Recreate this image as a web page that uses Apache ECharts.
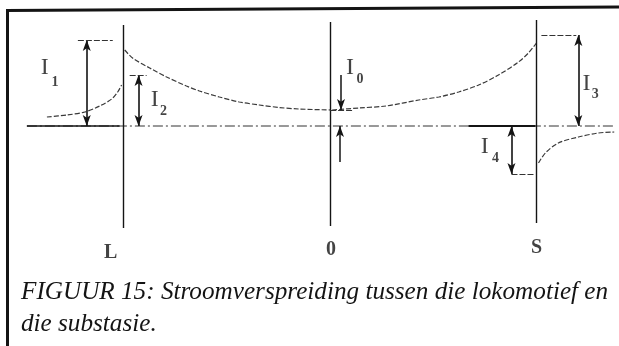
<!DOCTYPE html>
<html>
<head>
<meta charset="utf-8">
<script src="https://cdn.jsdelivr.net/npm/echarts@6/dist/echarts.min.js"></script>
<style>
  html, body { margin: 0; padding: 0; background: #fff; }
  #chart { width: 619px; height: 346px; }
</style>
</head>
<body>
<div id="chart"></div>
<script>
// Track positions: L = locomotive, 0 = midpoint, S = substation
const stationNames = ['L', '0', 'S'];
const stationPos = [0, 1, 2];
const stationTop = [10.1, 10.4, 10.6];
const stationBottom = [-10.2, -10.0, -9.7];

// Rail current, relative units, zero = reference level  [position, current]
const curveBehindL = [[-0.372, 0.9], [-0.275, 1.1], [-0.188, 1.4], [-0.116, 2.0], [-0.058, 2.7], [-0.029, 3.4], [-0.010, 4.1]];
const curveLto0 = [[0.005, 7.6], [0.043, 6.8], [0.126, 5.8], [0.208, 4.9], [0.304, 4.0], [0.367, 3.5], [0.464, 2.9],
                   [0.560, 2.4], [0.657, 2.1], [0.754, 1.85], [0.850, 1.7], [1.0, 1.6]];
const curve0toS = [[1.010, 1.6], [1.140, 1.8], [1.271, 2.0], [1.430, 2.6], [1.527, 2.9], [1.623, 3.4], [1.720, 4.1],
                   [1.816, 5.1], [1.913, 6.4], [1.961, 7.3], [2.0, 8.3]];
const curveBeyondS = [[2.010, -3.7], [2.043, -2.7], [2.106, -1.7], [2.203, -1.1], [2.300, -0.7], [2.377, -0.6]];

// Reference level extent
const referenceFrom = -0.469;
const referenceTo = 2.372;

// Dimension arrows: name, position, from, to
const dimNames = ['I1', 'I2', 'I3', 'I4'];
const dimPos = [-0.179, 0.072, 2.203, 1.879];
const dimFrom = [0, 0, 0, 0];
const dimTo = [8.6, 5.1, 9.1, -4.8];

// Short extension lines marking the arrow ends: [from, to, level]
const extFrom = [-0.222, 0.029, 2.024, 1.879, 1.0];
const extTo = [-0.053, 0.111, 2.193, 1.995, 1.116];
const extLevel = [8.6, 5.1, 9.1, -4.8, 1.6];

// I0 pointer arrows (one from above, one from below)
const i0Pos = [1.053, 1.048];
const i0From = [5.1, -3.6];
const i0To = [1.6, 0];

// Current labels: letter anchor and subscript anchor
const labelSubs = ['1', '2', '0', '3', '4'];
const labelI = [[-0.382, 5.8], [0.150, 2.6], [1.097, 5.8], [2.242, 4.2], [1.749, -2.1]];
const labelSub = [[-0.333, 4.4], [0.193, 1.5], [1.145, 4.7], [2.285, 3.2], [1.802, -3.2]];

const caption = 'FIGUUR 15: Stroomverspreiding tussen die lokomotief en\ndie substasie.';

const ink = '#141414';
const serif = 'Liberation Serif';

const chart = echarts.init(document.getElementById('chart'), null, { renderer: 'canvas' });

function curveSeries(data) {
  return {
    type: 'line', data: data, smooth: 0.3, showSymbol: false, silent: true,
    lineStyle: { color: '#3a3a3a', width: 1.2, type: [5, 2] }
  };
}

const stationLines = stationPos.map((p, i) => [
  { coord: [p, stationBottom[i]] }, { coord: [p, stationTop[i]] }
]);
const dimLines = dimPos.map((p, i) => [
  { coord: [p, dimFrom[i]] }, { coord: [p, dimTo[i]] }
]);
const extLines = extFrom.map((f, i) => [
  { coord: [f, extLevel[i]] }, { coord: [extTo[i], extLevel[i]] }
]);
const i0Lines = i0Pos.map((p, i) => [
  { coord: [p, i0From[i]] }, { coord: [p, i0To[i]] }
]);

const stationLabelOffset = [-0.063, 0.005, 0.0];
const stationLabelLevel = [-12.7, -12.4, -12.2];

function textSeries(points, texts, font) {
  return {
    type: 'scatter', silent: true, symbolSize: 1,
    itemStyle: { color: 'transparent' },
    data: points.map((pt, i) => ({ value: pt, name: texts[i] })),
    label: {
      show: true, position: 'inside', formatter: p => p.name,
      color: ink, fontFamily: serif, fontSize: font.size, fontWeight: font.weight
    }
  };
}

const option = {
  animation: false,
  backgroundColor: '#fff',
  title: {
    text: caption, left: 16, top: 271,
    textStyle: {
      fontFamily: serif, fontStyle: 'italic', fontWeight: 'normal',
      fontSize: 25.2, lineHeight: 32, color: ink
    }
  },
  graphic: [
    { type: 'line', shape: { x1: 7.5, y1: 9, x2: 7.5, y2: 346 }, style: { stroke: ink, lineWidth: 3 } },
    { type: 'line', shape: { x1: 6, y1: 10.5, x2: 619, y2: 7 }, style: { stroke: ink, lineWidth: 3 } }
  ],
  grid: { left: 20.5, top: 6, width: 600.3, height: 340 },
  xAxis: { type: 'value', min: -0.5, max: 2.4, show: false },
  yAxis: { type: 'value', min: -22, max: 12, show: false },
  series: [
    // reference level
    {
      type: 'line', silent: true, showSymbol: false,
      data: [[referenceFrom, 0], [referenceTo, 0]],
      lineStyle: { color: '#333', width: 1, type: [10, 3, 2, 3] }
    },
    {
      type: 'line', silent: true, showSymbol: false,
      data: [[referenceFrom, 0], [-0.02, 0]],
      lineStyle: { color: ink, width: 1.4 }
    },
    {
      type: 'line', silent: true, showSymbol: false,
      data: [[1.671, 0], [1.995, 0]],
      lineStyle: { color: ink, width: 2 }
    },
    curveSeries(curveBehindL),
    curveSeries(curveLto0),
    curveSeries(curve0toS),
    curveSeries(curveBeyondS),
    // station verticals, dimension arrows and extension lines
    {
      type: 'line', data: [], silent: true,
      markLine: {
        silent: true, symbol: ['none', 'none'], label: { show: false },
        lineStyle: { color: ink, width: 1.4, type: 'solid' },
        data: stationLines
      }
    },
    {
      type: 'line', data: [], silent: true,
      markLine: {
        silent: true, symbol: ['arrow', 'arrow'], symbolSize: [6, 11], label: { show: false },
        lineStyle: { color: ink, width: 1.6, type: 'solid' },
        data: dimLines
      }
    },
    {
      type: 'line', data: [], silent: true,
      markLine: {
        silent: true, symbol: ['none', 'arrow'], symbolSize: [6, 11], label: { show: false },
        lineStyle: { color: ink, width: 1.5, type: 'solid' },
        data: i0Lines
      }
    },
    {
      type: 'line', data: [], silent: true,
      markLine: {
        silent: true, symbol: ['none', 'none'], label: { show: false },
        lineStyle: { color: '#333', width: 1.2, type: [6, 2] },
        data: extLines
      }
    },
    textSeries(labelI, labelI.map(() => 'I'), { size: 24, weight: 'normal' }),
    textSeries(labelSub, labelSubs, { size: 14, weight: 'bold' }),
    textSeries(stationPos.map((p, i) => [p + stationLabelOffset[i], stationLabelLevel[i]]), stationNames,
               { size: 20, weight: 'bold' })
  ]
};

chart.setOption(option);
</script>
</body>
</html>
